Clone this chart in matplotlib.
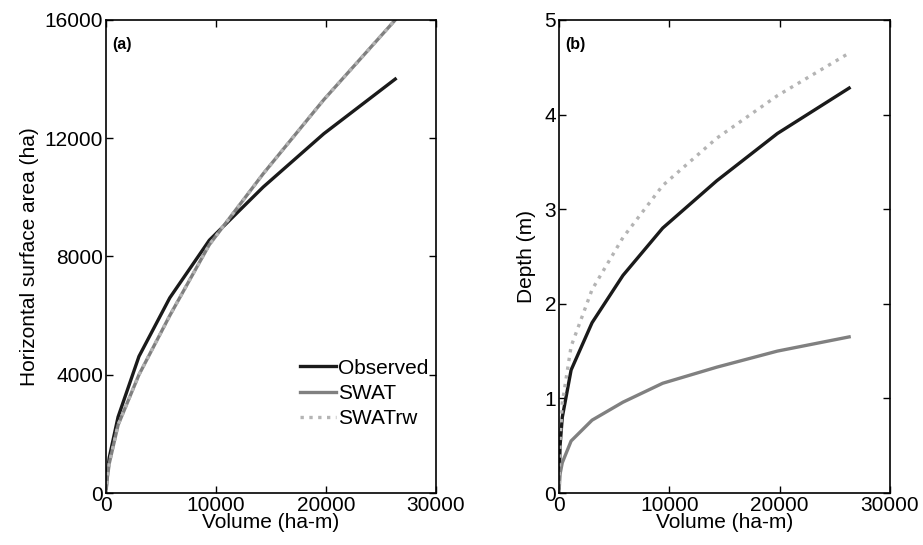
import numpy as np
import matplotlib.pyplot as plt

plt.rcParams['font.family'] = ['Liberation Sans', 'DejaVu Sans']

# volume breakpoints (ha-m)
vol = [0, 100, 300, 1100, 3000, 5800, 9400, 14300, 19800, 26300]

# (a) horizontal surface area (ha)
area_obs = [0, 600, 1200, 2570, 4620, 6600, 8550, 10350, 12150, 14000]
area_swat = [0, 450, 1000, 2300, 4000, 6000, 8400, 10800, 13300, 16000]
area_swatrw = [0, 450, 1000, 2300, 4000, 6000, 8400, 10800, 13300, 16000]

# (b) depth (m)
depth_obs = [0, 0.5, 0.8, 1.3, 1.8, 2.3, 2.8, 3.3, 3.8, 4.28]
depth_swat = [0, 0.2, 0.32, 0.55, 0.77, 0.96, 1.16, 1.33, 1.5, 1.65]
depth_swatrw = [0, 0.55, 0.95, 1.55, 2.15, 2.7, 3.25, 3.75, 4.2, 4.65]

c_obs = '#1a1a1a'
c_swat = '#808080'
c_rw = '#b4b4b4'
lw = 2.4
fs = 15

fig = plt.figure(figsize=(9.23, 5.45), dpi=100)
ax1 = fig.add_axes([0.1148, 0.0954, 0.3575, 0.868])
ax2 = fig.add_axes([0.6056, 0.0954, 0.3586, 0.868])

# --- panneau (a) ---
ax1.plot(vol, area_obs, color=c_obs, lw=lw, label='Observed')
ax1.plot(vol, area_swat, color=c_swat, lw=lw, label='SWAT')
ax1.plot(vol, area_swatrw, color=c_rw, lw=lw, ls=':', label='SWATrw')
ax1.set_xlim(0, 30000)
ax1.set_ylim(0, 16000)
ax1.set_xticks([0, 10000, 20000, 30000])
ax1.set_yticks([0, 4000, 8000, 12000, 16000])
ax1.set_xlabel('Volume (ha-m)', labelpad=-1)
ax1.set_ylabel('Horizontal surface area (ha)', labelpad=4)
ax1.text(0.02, 0.965, '(a)', transform=ax1.transAxes, fontweight='bold',
         fontsize=11.5, va='top', ha='left')
ax1.legend(loc='lower right', bbox_to_anchor=(1.01, 0.115), frameon=False,
           handlelength=1.75, handletextpad=0.1, labelspacing=0.3,
           fontsize=fs, borderaxespad=0.1)

# --- panneau (b) ---
ax2.plot(vol, depth_obs, color=c_obs, lw=lw)
ax2.plot(vol, depth_swat, color=c_swat, lw=lw)
ax2.plot(vol, depth_swatrw, color=c_rw, lw=lw, ls=':')
ax2.set_xlim(0, 30000)
ax2.set_ylim(0, 5)
ax2.set_xticks([0, 10000, 20000, 30000])
ax2.set_yticks([0, 1, 2, 3, 4, 5])
ax2.set_xlabel('Volume (ha-m)', labelpad=-1)
ax2.set_ylabel('Depth (m)', labelpad=6)
ax2.text(0.02, 0.965, '(b)', transform=ax2.transAxes, fontweight='bold',
         fontsize=11.5, va='top', ha='left')

for ax in (ax1, ax2):
    ax.tick_params(direction='in', top=True, right=True, length=5,
                   labelsize=fs, pad=2, width=1)
    ax.xaxis.label.set_size(fs)
    ax.yaxis.label.set_size(fs)
    for s in ax.spines.values():
        s.set_linewidth(1.2)

fig.savefig('out.png', dpi=100)
